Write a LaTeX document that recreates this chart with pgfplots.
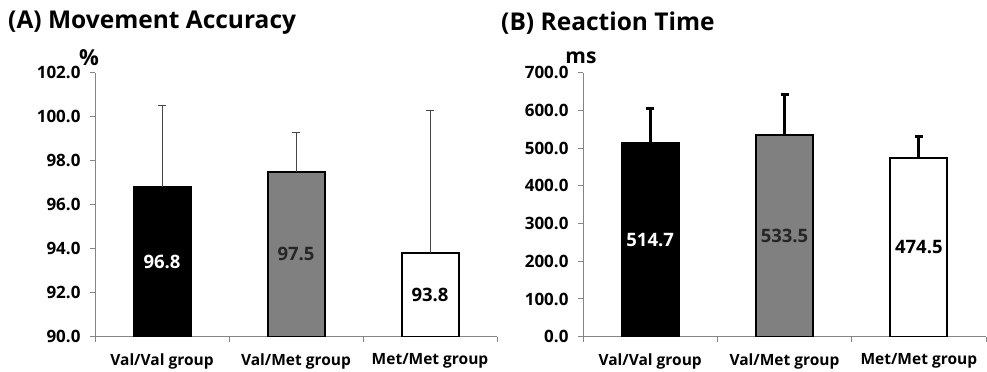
\documentclass[border=0pt]{standalone}
\usepackage{fontspec}
\setmainfont{Open Sans}
\usepackage{pgfplots}
\pgfplotsset{compat=1.18}
\definecolor{axgray}{RGB}{134,134,134}
\definecolor{bargray}{RGB}{128,128,128}
\definecolor{errgray}{RGB}{70,70,70}
\pgfplotsset{
  panel/.style={
    scale only axis, height=264bp,
    anchor=south west,
    xmin=-0.5, xmax=2.5,
    axis x line*=bottom, axis y line*=left,
    axis line style={axgray, line width=1bp, -},
    xtick={-0.5,0.5,1.5,2.5}, xticklabels={},
    extra x ticks={0,1,2},
    extra x tick labels={Val/Val group, Val/Met group, Met/Met group},
    extra x tick style={tick style={draw=none}},
    tick align=outside,
    major tick length=5bp,
    tick style={axgray, line width=1bp},
    xticklabel style={font=\bfseries\fontsize{15.5bp}{18bp}\selectfont, text=black, yshift=-8bp},
    yticklabel style={font=\bfseries\fontsize{17bp}{20bp}\selectfont, text=black, xshift=-6bp},
    /pgf/number format/.cd, fixed, fixed zerofill, precision=1, assume math mode=true,
  },
  lbl/.style={draw=none, mark=none, nodes near coords, point meta=explicit symbolic,
    every node near coord/.style={anchor=center, font=\bfseries\fontsize{18.5bp}{21bp}\selectfont}},
}
\begin{document}
\begin{tikzpicture}
\useasboundingbox (0,0) rectangle (987bp,-372bp);
% Panel A
\begin{axis}[panel, at={(95bp,-336.7bp)}, width=402bp,
  ymin=90, ymax=102, ytick={90,92,...,102}]
\addplot[ybar, bar width=57bp, bar shift=0pt, fill=black, draw=black, line width=2bp,
  error bars/.cd, y dir=plus, y explicit,
  error bar style={line width=0.9bp, errgray},
  error mark options={line width=0.9bp, errgray, mark size=4bp, rotate=90}]
  coordinates {(0,96.8) +- (0,3.7)};
\addplot[ybar, bar width=57bp, bar shift=0pt, fill=bargray, draw=black, line width=2bp,
  error bars/.cd, y dir=plus, y explicit,
  error bar style={line width=0.9bp, errgray},
  error mark options={line width=0.9bp, errgray, mark size=4bp, rotate=90}]
  coordinates {(1,97.5) +- (0,1.8)};
\addplot[ybar, bar width=57bp, bar shift=0pt, fill=white, draw=black, line width=2bp,
  error bars/.cd, y dir=plus, y explicit,
  error bar style={line width=0.9bp, errgray},
  error mark options={line width=0.9bp, errgray, mark size=4bp, rotate=90}]
  coordinates {(2,93.8) +- (0,6.5)};
\addplot[lbl, nodes near coords style={text=white}] coordinates {(0,93.4) [96.8]};
\addplot[lbl, nodes near coords style={text=black!85}] coordinates {(1,93.75) [97.5]};
\addplot[lbl, nodes near coords style={text=black}] coordinates {(2,91.9) [93.8]};
\end{axis}
% Panel B
\begin{axis}[panel, at={(583bp,-336.7bp)}, width=403bp,
  ymin=0, ymax=700, ytick={0,100,...,700}]
\addplot[ybar, bar width=57bp, bar shift=0pt, fill=black, draw=black, line width=2bp,
  error bars/.cd, y dir=plus, y explicit,
  error bar style={line width=3bp, black},
  error mark options={line width=3bp, black, mark size=4bp, rotate=90}]
  coordinates {(0,514.7) +- (0,91.3)};
\addplot[ybar, bar width=57bp, bar shift=0pt, fill=bargray, draw=black, line width=2bp,
  error bars/.cd, y dir=plus, y explicit,
  error bar style={line width=3bp, black},
  error mark options={line width=3bp, black, mark size=4bp, rotate=90}]
  coordinates {(1,533.5) +- (0,107.5)};
\addplot[ybar, bar width=57bp, bar shift=0pt, fill=white, draw=black, line width=2bp,
  error bars/.cd, y dir=plus, y explicit,
  error bar style={line width=3bp, black},
  error mark options={line width=3bp, black, mark size=4bp, rotate=90}]
  coordinates {(2,474.5) +- (0,57.5)};
\addplot[lbl, nodes near coords style={text=white}] coordinates {(0,257.35) [514.7]};
\addplot[lbl, nodes near coords style={text=black!85}] coordinates {(1,266.75) [533.5]};
\addplot[lbl, nodes near coords style={text=black}] coordinates {(2,237.25) [474.5]};
\end{axis}
% titles and units
\node[anchor=west, font=\bfseries\fontsize{24.5bp}{28bp}\selectfont, inner sep=0pt] at (8bp,-23bp) {(A) Movement Accuracy};
\node[anchor=west, font=\bfseries\fontsize{24.5bp}{28bp}\selectfont, inner sep=0pt] at (501bp,-23bp) {(B) Reaction Time};
\node[font=\bfseries\fontsize{22bp}{24bp}\selectfont, inner sep=0pt] at (89bp,-58bp) {\%};
\node[anchor=base, font=\bfseries\fontsize{21bp}{24bp}\selectfont, inner sep=0pt] at (581bp,-63bp) {ms};
\end{tikzpicture}
\end{document}
